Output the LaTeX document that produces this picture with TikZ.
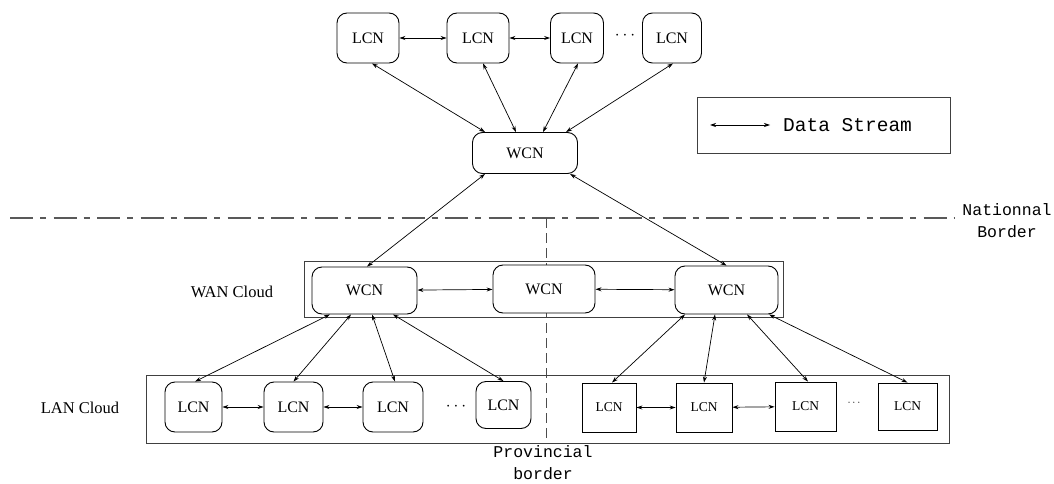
\documentclass[tikz,border=0pt]{standalone}
\usepackage{fontspec}
\setmainfont{Liberation Serif}
\setmonofont{Liberation Mono}
\usetikzlibrary{arrows.meta}
\begin{document}
\begin{tikzpicture}[x=1pt,y=-1pt,
  rnode/.style={draw,line width=0.9pt,rounded corners=10pt,fill=white,inner sep=0pt,font=\fontsize{16}{19}\selectfont},
  snode/.style={draw,line width=0.9pt,fill=white,inner sep=0pt,font=\fontsize{13.5}{16}\selectfont},
  cbox/.style={draw=black!75,line width=1pt,inner sep=0pt},
  lbl/.style={font=\fontsize{16.5}{19}\selectfont},
  mono/.style={font=\ttfamily\fontsize{16.5}{22}\selectfont,align=center},
  biarrow/.style={{Stealth[length=6pt,width=4pt]}-{Stealth[length=6pt,width=4pt]},line width=0.7pt},
  natline/.style={draw=black!65,line width=1.4pt,dash pattern=on 23pt off 7pt on 6pt off 7.5pt},
  provline/.style={draw=black!70,line width=1pt,dash pattern=on 10pt off 5pt}
]
\useasboundingbox (0,0) rectangle (1054,484);

% borders (drawn first)
\coordinate (nl) at (10,218);
\coordinate (nr) at (955,218);
\coordinate (pt) at (546,218);
\coordinate (pb) at (546,443);
\draw[natline] (nl) -- (nr);
\draw[provline] (pt) -- (pb);
\node[mono] (natlbl) at (1007,221) {Nationnal\\Border};
\node[mono] (provlbl) at (543,463) {Provincial\\border};

% top row
\node[rnode,minimum width=62pt,minimum height=50pt] (t1) at (368,38) {LCN};
\node[rnode,minimum width=62pt,minimum height=50pt] (t2) at (478,38) {LCN};
\node[rnode,minimum width=53pt,minimum height=50pt] (t3) at (577,38) {LCN};
\node[rnode,minimum width=59pt,minimum height=50pt] (t4) at (672,38) {LCN};
\node[lbl] (tdots) at (625,36) {$\cdots$};
\node[rnode,minimum width=105pt,minimum height=41pt] (tw) at (525,153) {WCN};

\draw[biarrow] (t1) -- (t2);
\draw[biarrow] (t2) -- (t3);
\draw[biarrow] ([xshift=-40pt]tw.north) -- ([xshift=4pt]t1.south);
\draw[biarrow] ([xshift=-9pt]tw.north) -- ([xshift=5pt]t2.south);
\draw[biarrow] ([xshift=18pt]tw.north) -- ([xshift=1pt]t3.south);
\draw[biarrow] ([xshift=41pt]tw.north) -- ([xshift=1pt]t4.south);

% legend
\node[cbox,minimum width=253pt,minimum height=55pt] (legend) at (823.5,125.5) {};
\coordinate (la) at (710,125);
\coordinate (lb) at (770,125);
\draw[biarrow] (la) -- (lb);
\node[font=\ttfamily\fontsize{19.5}{22}\selectfont,anchor=west,inner sep=0pt] (ltext) at (783,125) {Data Stream};

% WAN cloud
\node[cbox,minimum width=479pt,minimum height=56pt] (wan) at (543.5,289) {};
\node[lbl] (wanlbl) at (232,292) {WAN Cloud};
\node[rnode,minimum width=105pt,minimum height=47pt] (wl) at (364.5,290.5) {WCN};
\node[rnode,minimum width=102pt,minimum height=48pt] (wm) at (544,289) {WCN};
\node[rnode,minimum width=103pt,minimum height=48pt] (wr) at (726.5,290) {WCN};
\draw[biarrow] (wl) -- (wm);
\draw[biarrow] (wm) -- (wr);
\draw[biarrow] ([xshift=-40pt]tw.south) -- ([xshift=2.5pt]wl.north);
\draw[biarrow] ([xshift=45pt]tw.south) -- (wr.north);

% LAN cloud
\node[cbox,minimum width=803pt,minimum height=68pt] (lan) at (547.5,409) {};
\node[lbl] (lanlbl) at (80,408) {LAN Cloud};
\node[rnode,minimum width=57pt,minimum height=50pt] (l1) at (193.5,407) {LCN};
\node[rnode,minimum width=59pt,minimum height=50pt] (l2) at (293.5,407) {LCN};
\node[rnode,minimum width=60pt,minimum height=50pt] (l3) at (393,407) {LCN};
\node[rnode,minimum width=55pt,minimum height=47pt] (l4) at (503.5,405) {LCN};
\node[lbl] (ldots) at (456,407) {$\cdots$};
\node[snode,minimum width=54pt,minimum height=49pt] (s1) at (609,407.5) {LCN};
\node[snode,minimum width=56pt,minimum height=49pt] (s2) at (704,407.5) {LCN};
\node[snode,minimum width=61pt,minimum height=49pt] (s3) at (805.5,406.5) {LCN};
\node[snode,minimum width=59pt,minimum height=47pt] (s4) at (907.5,406.5) {LCN};
\node[font=\fontsize{11}{13}\selectfont] (sdots) at (854,403) {$\cdots$};

\draw[biarrow] (l1) -- (l2);
\draw[biarrow] (l2) -- (l3);
\draw[biarrow] (s1) -- (s2);
\draw[biarrow] (s2) -- (s3);

\draw[biarrow] ([xshift=-34.5pt]wl.south) -- ([xshift=1.5pt]l1.north);
\draw[biarrow] ([xshift=-13.5pt]wl.south) -- (l2.north);
\draw[biarrow] ([xshift=7.5pt]wl.south) -- ([xshift=2pt]l3.north);
\draw[biarrow] ([xshift=28.5pt]wl.south) -- (l4.north);
\draw[biarrow] ([xshift=-41.5pt]wr.south) -- ([xshift=3pt]s1.north);
\draw[biarrow] ([xshift=-11.5pt]wr.south) -- (s2.north);
\draw[biarrow] ([xshift=20.5pt]wr.south) -- ([xshift=2.5pt]s3.north);
\draw[biarrow] ([xshift=42.5pt]wr.south) -- (s4.north);
\end{tikzpicture}
\end{document}
